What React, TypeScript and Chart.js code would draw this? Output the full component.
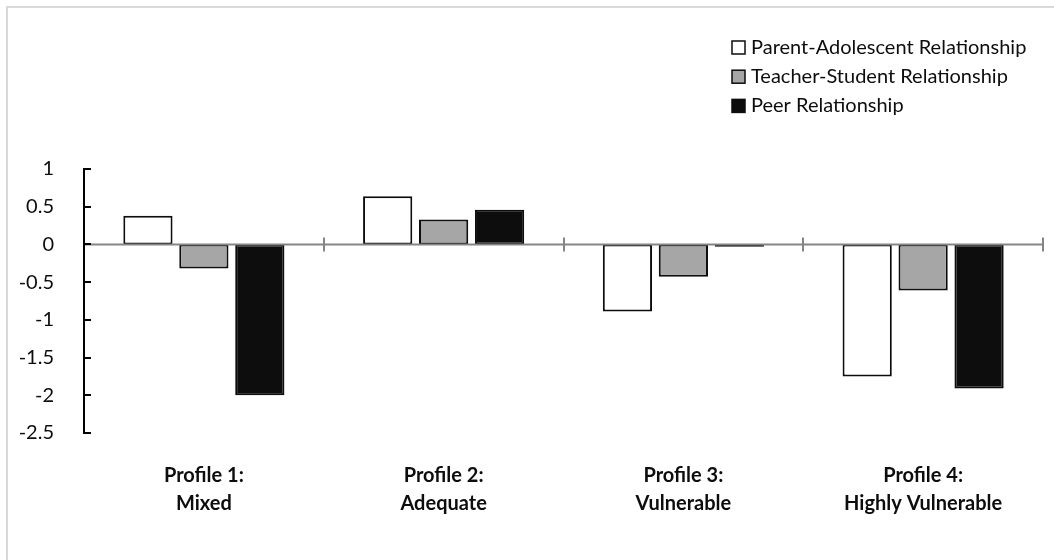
import React, { useEffect, useRef } from "react";
import { Chart, registerables } from "chart.js";

Chart.register(...registerables);

const categories: string[][] = [
  ["Profile 1:", "Mixed"],
  ["Profile 2:", "Adequate"],
  ["Profile 3:", "Vulnerable"],
  ["Profile 4:", "Highly Vulnerable"],
];
const seriesNames = [
  "Parent-Adolescent Relationship",
  "Teacher-Student Relationship",
  "Peer Relationship",
];
const parentValues = [0.38, 0.64, -0.89, -1.75];
const teacherValues = [-0.32, 0.33, -0.43, -0.61];
const peerValues = [-2.0, 0.46, -0.03, -1.91];
const yTicks = [1, 0.5, 0, -0.5, -1, -1.5, -2, -2.5];
const yTickLabels = ["1", "0.5", "0", "-0.5", "-1", "-1.5", "-2", "-2.5"];

const fillColors = ["#ffffff", "#a6a6a6", "#0d0d0d"];
const FONT = "Lato";

const axesPlugin = {
  id: "customAxes",
  afterDatasetsDraw(chart: any) {
    const { ctx, chartArea, scales } = chart;
    const x = scales.x;
    const y = scales.y;
    ctx.save();
    // zero line
    const y0 = y.getPixelForValue(0);
    ctx.strokeStyle = "#858585";
    ctx.lineWidth = 2;
    ctx.beginPath();
    ctx.moveTo(chartArea.left, y0);
    ctx.lineTo(chartArea.right, y0);
    ctx.stroke();
    // category boundary ticks
    const half = (x.getPixelForValue(1) - x.getPixelForValue(0)) / 2;
    for (let i = 0; i <= categories.length; i++) {
      const px = Math.round(x.getPixelForValue(0) - half + i * 2 * half);
      ctx.beginPath();
      ctx.moveTo(px, y0 - 7);
      ctx.lineTo(px, y0 + 7);
      ctx.stroke();
    }
    // y axis line with inward ticks
    ctx.strokeStyle = "#000000";
    ctx.lineWidth = 2;
    const top = y.getPixelForValue(yTicks[0]);
    const bottom = y.getPixelForValue(yTicks[yTicks.length - 1]);
    ctx.beginPath();
    ctx.moveTo(chartArea.left, top - 1);
    ctx.lineTo(chartArea.left, bottom + 1);
    ctx.stroke();
    yTicks.forEach((v) => {
      const py = Math.round(y.getPixelForValue(v));
      ctx.beginPath();
      ctx.moveTo(chartArea.left, py);
      ctx.lineTo(chartArea.left + 7, py);
      ctx.stroke();
    });
    ctx.restore();
  },
  afterDraw(chart: any) {
    const { ctx } = chart;
    ctx.save();
    ctx.font = `20px ${FONT}`;
    ctx.textBaseline = "middle";
    ctx.textAlign = "left";
    seriesNames.forEach((name, i) => {
      const cy = 47.5 + i * 29.2;
      ctx.fillStyle = fillColors[i];
      ctx.fillRect(732, cy - 6.5, 13, 13);
      ctx.strokeStyle = "#0d0d0d";
      ctx.lineWidth = 1.5;
      ctx.strokeRect(732, cy - 6.5, 13, 13);
      ctx.fillStyle = "#0d0d0d";
      ctx.fillText(name, 751, cy);
    });
    ctx.restore();
  },
};

export default function App() {
  const ref = useRef<HTMLCanvasElement | null>(null);
  useEffect(() => {
    if (!ref.current) return;
    const seriesValues = [parentValues, teacherValues, peerValues];
    const chart = new Chart(ref.current, {
      type: "bar",
      data: {
        labels: categories,
        datasets: seriesNames.map((name, i) => ({
          label: name,
          data: seriesValues[i],
          backgroundColor: fillColors[i],
          borderColor: "#0d0d0d",
          borderWidth: 2,
          borderSkipped: false,
          categoryPercentage: 0.7,
          barPercentage: 0.88,
        })),
      },
      options: {
        responsive: false,
        animation: false,
        layout: { padding: { top: 169, right: 11, left: 0, bottom: 0 } },
        plugins: {
          legend: { display: false },
          tooltip: { enabled: false },
        },
        scales: {
          x: {
            grid: { display: false },
            border: { display: false },
            ticks: {
              color: "#0d0d0d",
              font: { family: FONT, size: 20, weight: "bold", lineHeight: 1.4 },
              padding: 21,
              maxRotation: 0,
              autoSkip: false,
            },
            afterFit: (scale: any) => {
              scale.height = 560 - 433;
            },
          },
          y: {
            min: -2.5,
            max: 1,
            grid: { display: false },
            border: { display: false },
            afterBuildTicks: (scale: any) => {
              scale.ticks = yTicks.map((v) => ({ value: v }));
            },
            ticks: {
              color: "#0d0d0d",
              font: { family: FONT, size: 20 },
              padding: 22,
              callback: (v: any) => {
                const idx = yTicks.indexOf(Number(v));
                return idx >= 0 ? yTickLabels[idx] : "";
              },
            },
            afterFit: (scale: any) => {
              scale.width = 84;
            },
          },
        },
      },
      plugins: [axesPlugin],
    });
    return () => chart.destroy();
  }, []);

  return (
    <div
      style={{
        position: "fixed",
        left: 0,
        top: 0,
        width: 1054,
        height: 560,
        overflow: "hidden",
        background: "#ffffff",
      }}
    >
      <div
        style={{
          position: "absolute",
          left: 6,
          top: 6,
          width: 1100,
          height: 600,
          borderLeft: "2px solid #d9d9d9",
          borderTop: "2px solid #d9d9d9",
        }}
      />
      <canvas
        ref={ref}
        width={1054}
        height={560}
        style={{ position: "absolute", left: 0, top: 0, width: 1054, height: 560 }}
      />
    </div>
  );
}
